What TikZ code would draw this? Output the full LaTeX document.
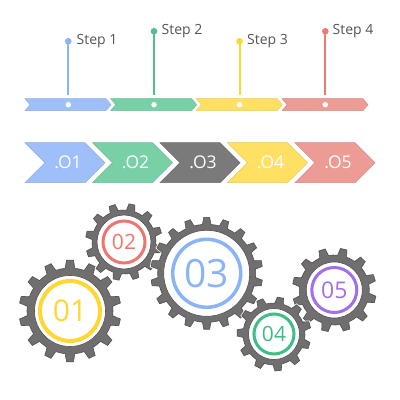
\documentclass[tikz,border=0pt]{standalone}
\usepackage{fontspec}
\setmainfont{Open Sans}
\definecolor{bblue}{HTML}{9EBFFA}
\definecolor{bgreen}{HTML}{78D0A7}
\definecolor{byellow}{HTML}{FFE063}
\definecolor{bred}{HTML}{EC9B95}
\definecolor{sblue}{HTML}{8AB4F8}
\definecolor{sgreen}{HTML}{52BE8A}
\definecolor{syellow}{HTML}{FDD835}
\definecolor{sred}{HTML}{EE7B72}
\definecolor{cgrey}{HTML}{7B7A7A}
\definecolor{gearfill}{HTML}{706E6E}
\definecolor{gearedge}{HTML}{505050}
\definecolor{rblue}{HTML}{8AB4F8}
\definecolor{rred}{HTML}{EE7670}
\definecolor{ryellow}{HTML}{FDD835}
\definecolor{rgreen}{HTML}{3DBE84}
\definecolor{rpurple}{HTML}{A36FE6}
\definecolor{txtgrey}{HTML}{555555}
\tikzset{
  bandseg/.style={fill=#1, draw=#1!90!black, line width=0.4pt},
  chevseg/.style={fill=#1, draw=#1!90!black, line width=0.5pt},
  bandot/.style={circle, fill=white, inner sep=0pt, minimum size=5.4pt},
  stemtop/.style={circle, fill=#1, inner sep=0pt, minimum size=6.6pt},
  stemline/.style={draw=#1, line width=2pt},
  steplabel/.style={anchor=west, inner sep=0pt, text=txtgrey, font=\fontsize{14}{14}\selectfont},
  chevlabel/.style={inner sep=0pt, text=white, font=\fontsize{17.5}{17.5}\selectfont},
  gearhalo/.style={draw=white, line width=2.2pt},
  gearbody/.style={fill=gearfill, draw=gearedge, line width=0.6pt},
  gearhole/.style={fill=white, draw=gearedge, line width=0.6pt},
  gearring/.style={draw=#1},
  gearnum/.style={inner sep=0pt, text=#1},
}
% cx, cy, N, root r, tip R, offset angle
\newcommand\cogpath[6]{%
  \pgfmathsetmacro\gsp{360/#3}%
  \pgfmathsetmacro\ghb{\gsp/4}%
  \pgfmathsetmacro\ght{\gsp/4*0.6}%
  \begin{scope}[shift={(#1,#2)}]
    \path[gearhalo] ({#6-\ghb}:#4)
      \foreach \i in {1,...,#3}{
        -- ({#6+(\i-1)*\gsp-\ght}:#5)
        -- ({#6+(\i-1)*\gsp+\ght}:#5)
        -- ({#6+(\i-1)*\gsp+\ghb}:#4)
        arc[start angle={#6+(\i-1)*\gsp+\ghb}, end angle={#6+\i*\gsp-\ghb}, radius=#4]
      } -- cycle;
    \path[gearbody] ({#6-\ghb}:#4)
      \foreach \i in {1,...,#3}{
        -- ({#6+(\i-1)*\gsp-\ght}:#5)
        -- ({#6+(\i-1)*\gsp+\ght}:#5)
        -- ({#6+(\i-1)*\gsp+\ghb}:#4)
        arc[start angle={#6+(\i-1)*\gsp+\ghb}, end angle={#6+\i*\gsp-\ghb}, radius=#4]
      } -- cycle;
  \end{scope}%
}
\begin{document}
\begin{tikzpicture}[x=1pt,y=1pt]
\useasboundingbox (0,0) rectangle (400,400);
\fill[white] (0,0) rectangle (400,400);

% ---- thin band ----
\foreach \xo/\col [count=\k] in {25/bblue,110.7/bgreen,196.3/byellow,282/bred}{
  \path[bandseg=\col] (\xo,301.3) -- ++(81,0) -- ++(5,-6) -- ++(-5,-6) -- ++(-81,0) -- ++(5,6) -- cycle;
}
\node[bandot] (d1) at (68.3,295.3) {};
\node[bandot] (d2) at (154,295.3) {};
\node[bandot] (d3) at (239.6,295.3) {};
\node[bandot] (d4) at (325.3,295.3) {};

% ---- stems ----
\coordinate (e1) at (68.3,305);
\coordinate (e2) at (154,305);
\coordinate (e3) at (239.6,305);
\coordinate (e4) at (325.3,305);
\node[stemtop=sblue] (t1) at (68.3,358.7) {};
\node[stemtop=sgreen] (t2) at (154,368.7) {};
\node[stemtop=syellow] (t3) at (239.6,358.7) {};
\node[stemtop=sred] (t4) at (325.3,368.7) {};
\draw[stemline=sblue] (t1.center) -- (e1);
\draw[stemline=sgreen] (t2.center) -- (e2);
\draw[stemline=syellow] (t3.center) -- (e3);
\draw[stemline=sred] (t4.center) -- (e4);
\node[steplabel] (l1) at (76.5,359.2) {Step 1};
\node[steplabel] (l2) at (161.5,369.2) {Step 2};
\node[steplabel] (l3) at (247,359.2) {Step 3};
\node[steplabel] (l4) at (332.5,369.2) {Step 4};

% ---- big chevrons ----
\foreach \xo/\col/\lab [count=\k] in {25/bblue/.O1,92.5/bgreen/.O2,160/cgrey/.O3,227.5/byellow/.O4,295/bred/.O5}{
  \path[chevseg=\col] (\xo,257.3) -- ++(60,0) -- ++(20,-20) -- ++(-20,-20) -- ++(-60,0) -- ++(20,20) -- cycle;
  \node[chevlabel] (c\k) at (\xo+43,237.3) {\lab};
}

% ---- gears ----
\cogpath{70}{89}{14}{43}{51}{90}
\cogpath{124}{158}{12}{32}{38.5}{78}
\cogpath{206.7}{126.7}{18}{49}{56}{90}
\cogpath{334.3}{110}{12}{35}{42}{77}
\cogpath{274}{66}{11}{31}{37}{80}

\path[gearhole] (70,89) circle[radius=35.5];
\path[gearhole] (124,158) circle[radius=27];
\path[gearhole] (206.7,126.7) circle[radius=43];
\path[gearhole] (334.3,110) circle[radius=28];
\path[gearhole] (274,66) circle[radius=25.5];

\draw[gearring=ryellow, line width=4pt] (70,89) circle[radius=30];
\draw[gearring=rred, line width=3pt] (124,158) circle[radius=21];
\draw[gearring=rblue, line width=3.5pt] (206.7,126.7) circle[radius=34];
\draw[gearring=rpurple, line width=3pt] (334.3,110) circle[radius=22.5];
\draw[gearring=rgreen, line width=3pt] (274,66) circle[radius=20];

\node[gearnum=ryellow, font=\fontsize{30}{30}\selectfont] (n1) at (70,89) {01};
\node[gearnum=rred, font=\fontsize{21}{21}\selectfont] (n2) at (124,158) {02};
\node[gearnum=rblue, font=\fontsize{39}{39}\selectfont] (n3) at (206.7,126.7) {03};
\node[gearnum=rpurple, font=\fontsize{23}{23}\selectfont] (n5) at (334.3,110) {05};
\node[gearnum=rgreen, font=\fontsize{21}{21}\selectfont] (n4) at (274,66) {04};
\end{tikzpicture}
\end{document}
